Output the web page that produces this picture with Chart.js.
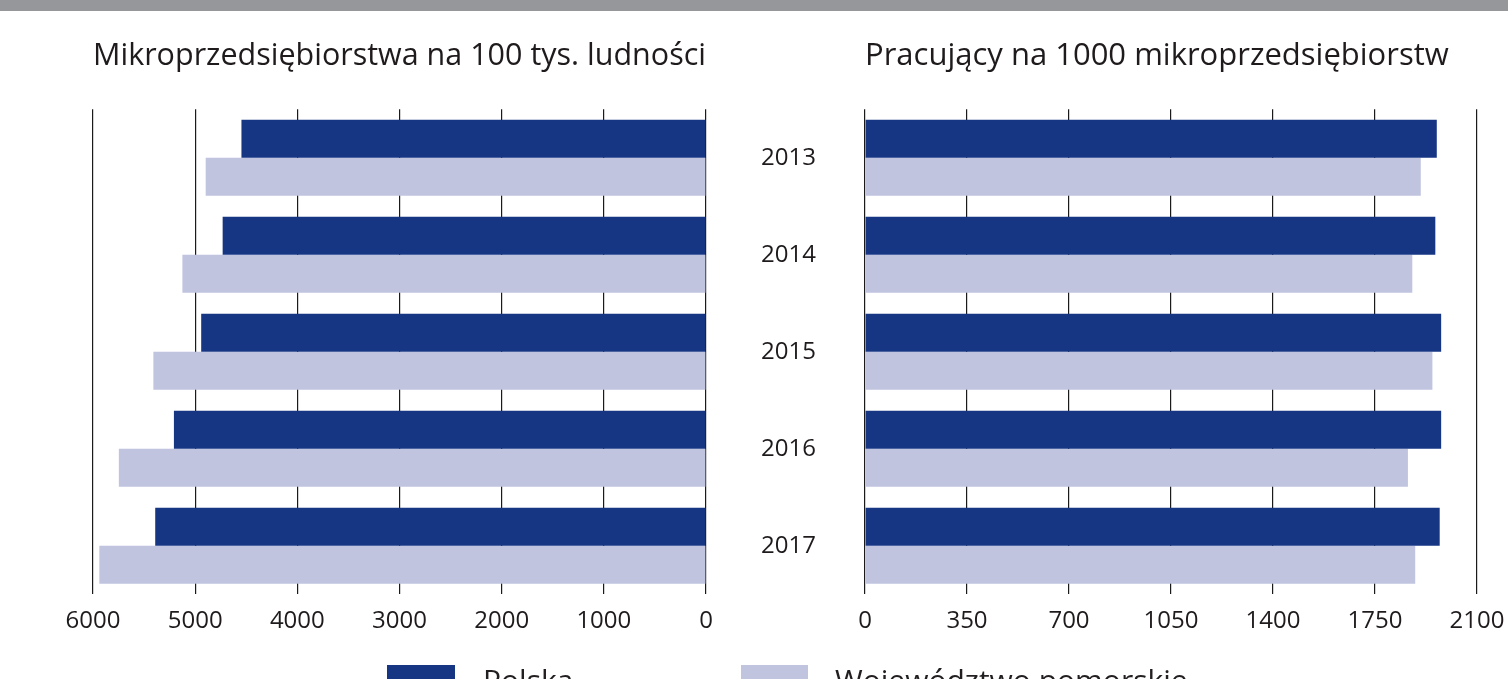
<!DOCTYPE html>
<html>
<head>
<meta charset="utf-8">
<script src="https://cdn.jsdelivr.net/npm/chart.js@4"></script>
<style>
  html, body { margin: 0; padding: 0; background: #fff; }
  body { width: 1508px; height: 679px; position: relative; overflow: hidden; font-family: 'Open Sans', sans-serif; color: #231f20; }
  .topbar { position: absolute; left: 0; top: 0; width: 1508px; height: 11px; background: #96979b; }
  #left { position: absolute; left: 0; top: 11px; }
  #right { position: absolute; left: 740px; top: 11px; }
  .lg-box { position: absolute; top: 665px; height: 20px; }
  .lg-text { position: absolute; top: 665px; font-size: 30px; line-height: 30px; white-space: nowrap; }
</style>
</head>
<body>
<div class="topbar"></div>
<canvas id="left" width="740" height="668"></canvas>
<canvas id="right" width="768" height="668"></canvas>
<div id="legend"></div>
<script>
const years = ['2013', '2014', '2015', '2016', '2017'];
const seriesNames = ['Polska', 'Województwo pomorskie'];
const seriesColors = ['#163684', '#c0c4df'];

// mikroprzedsiębiorstwa na 100 tys. ludności
const firmsPolska = [4547, 4731, 4941, 5208, 5391];
const firmsPomorskie = [4897, 5125, 5409, 5747, 5938];

// pracujący na 1000 mikroprzedsiębiorstw
const workersPolska = [1962, 1957, 1977, 1977, 1972];
const workersPomorskie = [1907, 1878, 1947, 1863, 1888];

const leftTicks = [0, 1000, 2000, 3000, 4000, 5000, 6000];
const rightTicks = [0, 350, 700, 1050, 1400, 1750, 2100];

const textColor = '#1f1b1c';
const gridColor = '#1a1a1a';

function makeDatasets(a, b) {
  return [a, b].map((values, i) => ({
    label: seriesNames[i],
    data: values,
    backgroundColor: seriesColors[i],
    borderWidth: 0,
    barPercentage: 1.0,
    categoryPercentage: 0.785
  }));
}

function xScale(ticks, reverse) {
  return {
    type: 'linear',
    reverse: reverse,
    min: ticks[0],
    max: ticks[ticks.length - 1],
    afterBuildTicks: (scale) => { scale.ticks = ticks.map(v => ({ value: v })); },
    // edge labels fit inside the layout padding, so don't let them push the plot in
    afterFit: (scale) => { scale.paddingLeft = 0; scale.paddingRight = 0; },
    grid: { color: gridColor, lineWidth: 1.2, drawTicks: false },
    border: { display: false },
    ticks: {
      padding: 13,
      color: textColor,
      font: { family: 'Open Sans', size: 24 },
      callback: (v) => String(v)
    }
  };
}

function titleOpts(text, align) {
  return {
    display: true,
    text: text,
    fullSize: false,
    align: align,
    color: textColor,
    font: { family: 'Open Sans', size: 31, weight: 'normal' },
    padding: { top: 27, bottom: 34 }
  };
}

Chart.defaults.animation = false;

new Chart(document.getElementById('left'), {
  type: 'bar',
  data: { labels: years, datasets: makeDatasets(firmsPolska, firmsPomorskie) },
  options: {
    responsive: false,
    indexAxis: 'y',
    layout: { padding: { left: 93, right: 34, top: 0, bottom: 30 } },
    scales: {
      x: xScale(leftTicks, true),
      y: { display: false }
    },
    plugins: {
      legend: { display: false },
      tooltip: { enabled: false },
      title: titleOpts('Mikroprzedsiębiorstwa na 100 tys. ludności', 'center')
    }
  }
});

new Chart(document.getElementById('right'), {
  type: 'bar',
  data: { labels: years, datasets: makeDatasets(workersPolska, workersPomorskie) },
  options: {
    responsive: false,
    indexAxis: 'y',
    layout: { padding: { left: 0, right: 31, top: 0, bottom: 30 } },
    scales: {
      x: xScale(rightTicks, false),
      y: {
        afterFit: (scale) => { scale.width = 125; },
        grid: { display: false },
        border: { display: false },
        ticks: { padding: 41, color: textColor, font: { family: 'Open Sans', size: 24 } }
      }
    },
    plugins: {
      legend: { display: false },
      tooltip: { enabled: false },
      title: titleOpts('Pracujący na 1000 mikroprzedsiębiorstw', 'start')
    }
  }
});

// shared legend under both charts
const legendPos = [{ box: 387, w: 68, text: 483 }, { box: 741, w: 67, text: 835 }];
const legend = document.getElementById('legend');
seriesNames.forEach((name, i) => {
  const box = document.createElement('div');
  box.className = 'lg-box';
  box.style.left = legendPos[i].box + 'px';
  box.style.width = legendPos[i].w + 'px';
  box.style.background = seriesColors[i];
  legend.appendChild(box);
  const t = document.createElement('div');
  t.className = 'lg-text';
  t.style.left = legendPos[i].text + 'px';
  t.textContent = name;
  legend.appendChild(t);
});
</script>
</body>
</html>
